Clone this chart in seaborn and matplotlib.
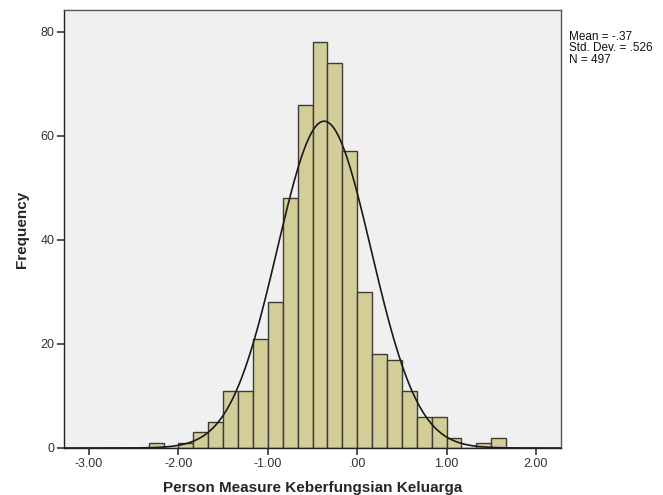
import numpy as np
import pandas as pd
import matplotlib
matplotlib.use("Agg")
import matplotlib.pyplot as plt
import seaborn as sns

# Data
bin_width = 1.0 / 6.0
bin_start = -14.0 / 6.0
counts = [1, 0, 1, 3, 5, 11, 11, 21, 28, 48, 66, 78, 74, 57, 30, 18, 17, 11, 6, 6, 2, 0, 1, 2]
x_ticks = [-3.0, -2.0, -1.0, 0.0, 1.0, 2.0]
x_tick_labels = ["-3.00", "-2.00", "-1.00", ".00", "1.00", "2.00"]
y_ticks = [0, 20, 40, 60, 80]
mean_val = -0.37
sd_val = 0.526
n_val = 497

edges = bin_start + bin_width * np.arange(len(counts) + 1)
centers = (edges[:-1] + edges[1:]) / 2
df = pd.DataFrame({"value": centers, "count": counts})

sns.set_style("white")
plt.rcParams["font.family"] = ["Liberation Sans", "DejaVu Sans"]

fig = plt.figure(figsize=(6.63, 4.95), dpi=100)
ax = fig.add_axes([64 / 663, 1 - 448 / 495, (561 - 64) / 663, (448 - 10) / 495])
ax.set_facecolor("#F0F0F0")

sns.histplot(data=df, x="value", weights="count", binwidth=bin_width,
             binrange=(float(edges[0]), float(edges[-1])), ax=ax,
             color="#D3CE97", edgecolor="#3C3C3C", linewidth=1.0, alpha=1.0)

xs = np.linspace(-3.3, 2.3, 400)
ys = n_val * bin_width / (sd_val * np.sqrt(2 * np.pi)) * np.exp(-0.5 * ((xs - mean_val) / sd_val) ** 2)
ax.plot(xs, ys, color="#1A1A1A", linewidth=1.2)

ax.set_xlim(-3.28, 2.28)
ax.set_ylim(0, 84.2)
ax.set_xticks(x_ticks)
ax.set_xticklabels(x_tick_labels)
ax.set_yticks(y_ticks)
ax.tick_params(axis="both", direction="out", length=5, width=1.2, color="#333333",
               labelsize=9, labelcolor="#333333", pad=2, bottom=True, left=True)
for s in ax.spines.values():
    s.set_color("#555555")
    s.set_linewidth(1.0)
ax.spines["left"].set_color("#222222")
ax.spines["bottom"].set_color("#222222")

ax.set_xlabel("Person Measure Keberfungsian Keluarga", fontsize=11, fontweight="bold", labelpad=8)
ax.set_ylabel("Frequency", fontsize=11, fontweight="bold", labelpad=8)

fig.text(569 / 663, 1 - 31 / 495, "Mean = -.37\nStd. Dev. = .526\nN = 497",
         fontsize=8.5, va="top", ha="left", linespacing=0.92, color="#111111")

fig.savefig("out.png", dpi=100, facecolor="white")
